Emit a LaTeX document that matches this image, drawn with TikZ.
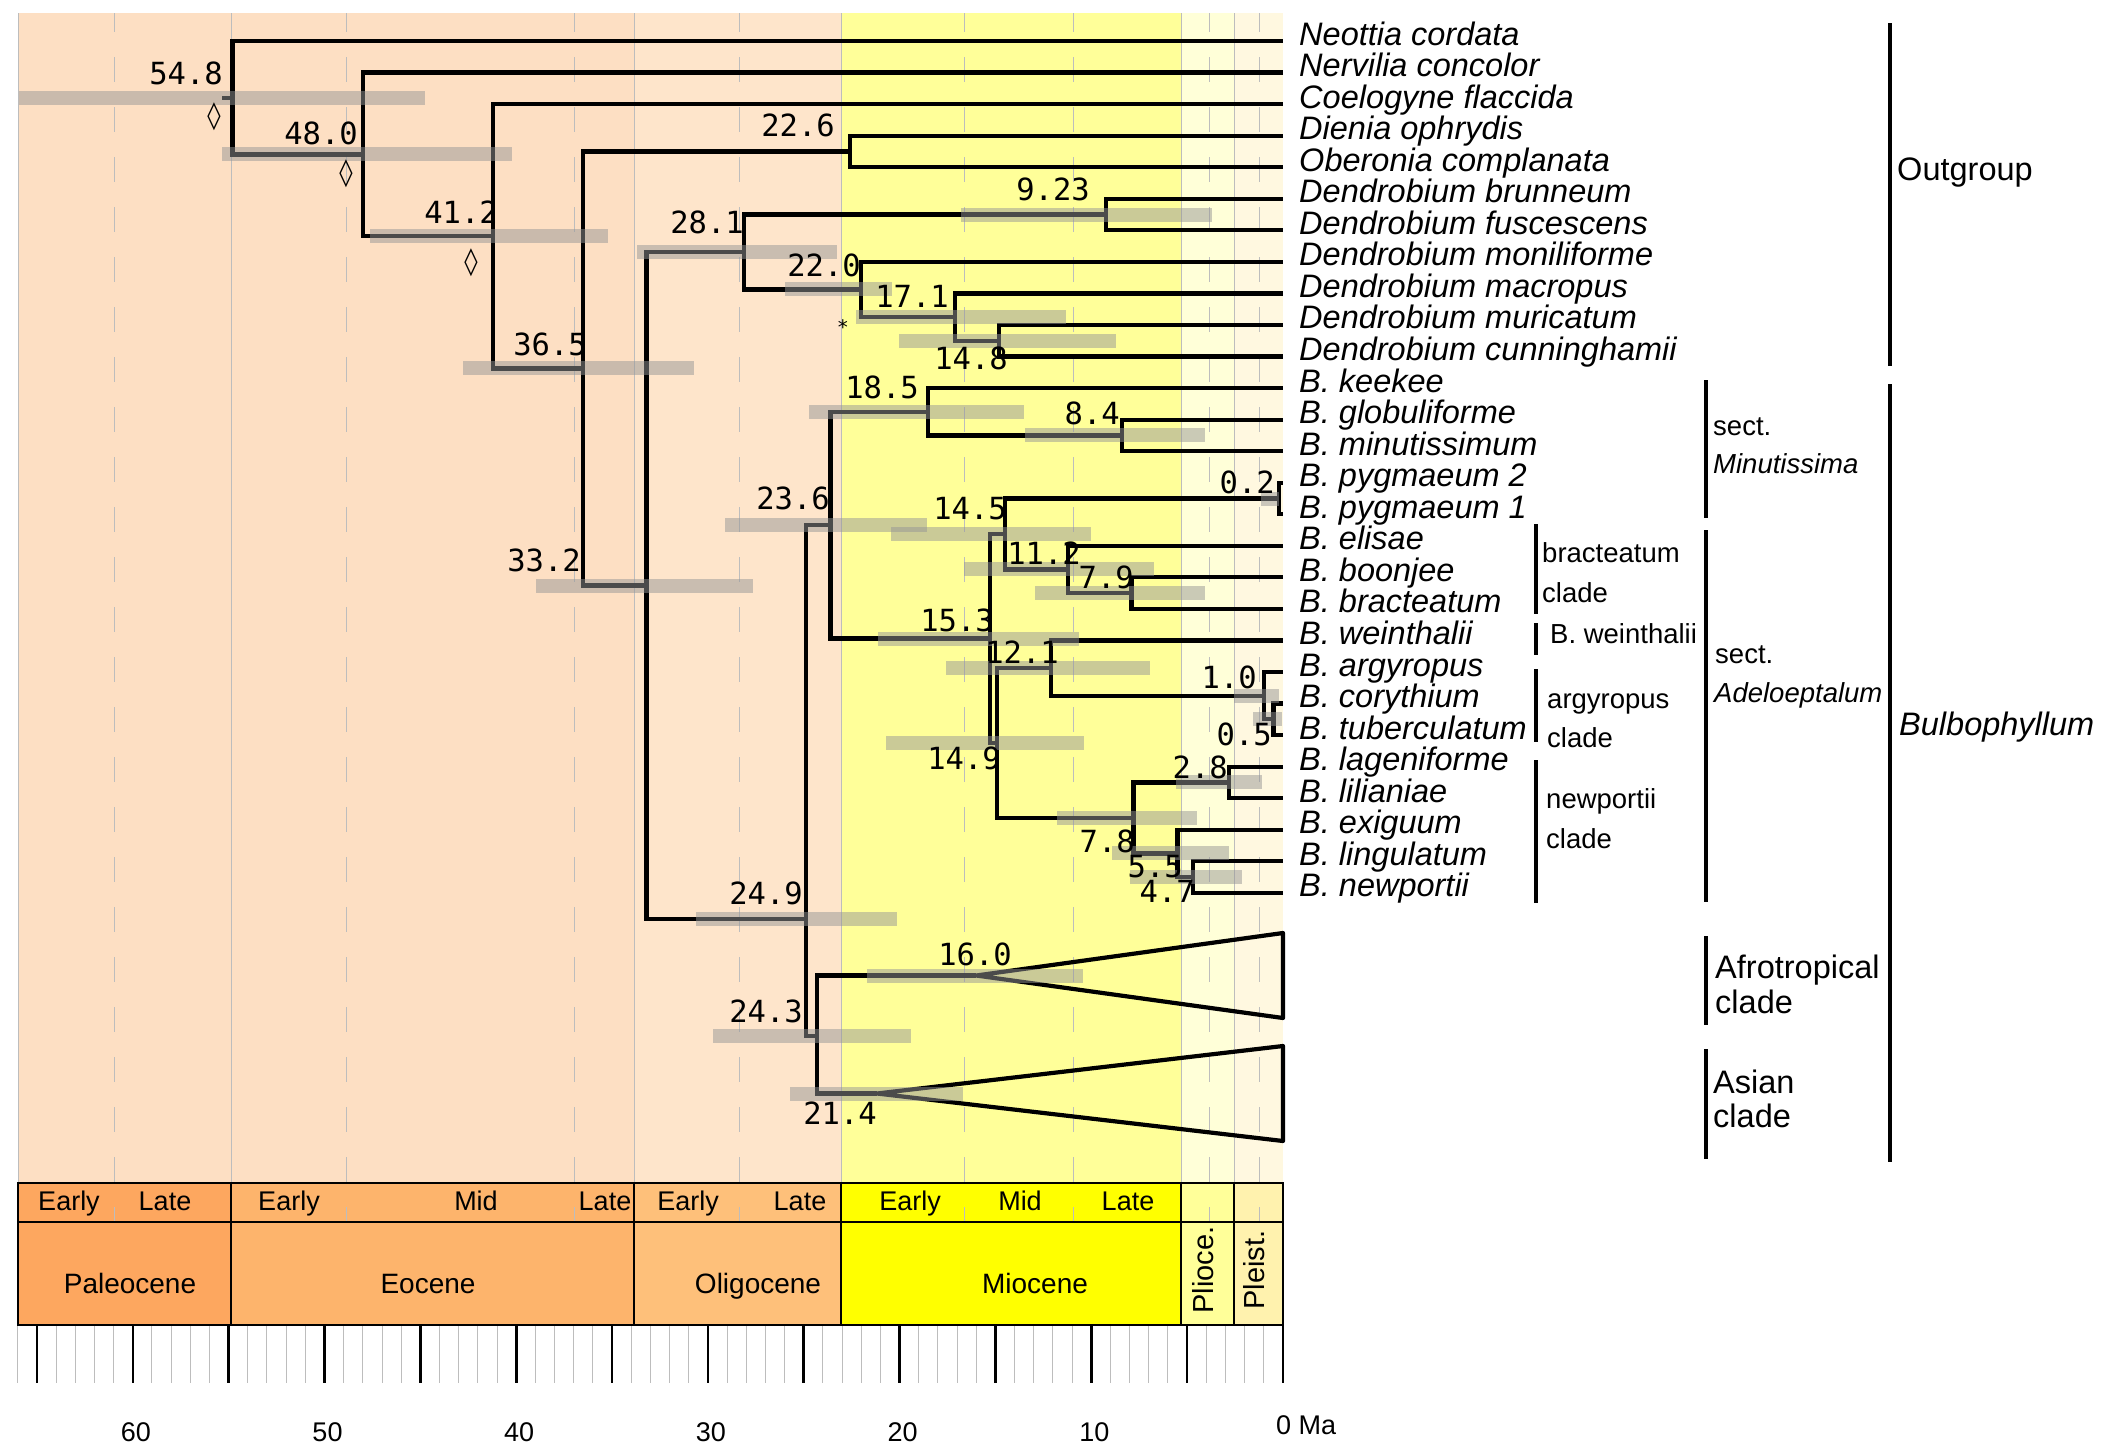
\documentclass[tikz,border=0pt]{standalone}
\usepackage{fontspec}
\setmainfont{Liberation Sans}
\newfontfamily\agefont{DejaVu Sans Mono}
\newfontfamily\symfont{DejaVu Sans}
\definecolor{cpal}{HTML}{FDA75F}
\definecolor{ceoc}{HTML}{FDB46C}
\definecolor{colig}{HTML}{FEC07A}
\definecolor{cmio}{HTML}{FFFF00}
\definecolor{cplio}{HTML}{FFFF99}
\definecolor{cpleis}{HTML}{FFF2AE}
\definecolor{bgpe}{HTML}{FDDFC3}
\definecolor{bgol}{HTML}{FEE5CB}
\definecolor{bgmi}{HTML}{FFFF99}
\definecolor{bgpl}{HTML}{FFFFD8}
\definecolor{bgps}{HTML}{FFF8E0}
\definecolor{hpdgray}{HTML}{969696}
\definecolor{gridgray}{HTML}{BDBDBD}
\newcommand\agex[1]{1283-19.17*#1}
\newcommand\hpdbar[3]{\fill[hpd] (#1,{#3-7}) rectangle (#2,{#3+7});}
\begin{document}
\begin{tikzpicture}[x=1pt,y=-1pt,
 branch/.style={line width=4.2pt,line join=miter},
 hpd/.style={fill=hpdgray,fill opacity=0.5},
 agelbl/.style={font={\agefont\fontsize{30.5}{36}\selectfont},inner sep=0pt,anchor=east},
 tiplbl/.style={font={\fontsize{32.5}{39}\selectfont\itshape},inner sep=0pt,anchor=base west},
 grplbl/.style={font={\fontsize{32.5}{39}\selectfont},inner sep=0pt,anchor=base west},
 sublbl/.style={font={\fontsize{27.5}{33}\selectfont},inner sep=0pt,anchor=base west},
 bracket/.style={line width=3.5pt},
 tslbl/.style={font={\fontsize{27}{32}\selectfont},inner sep=0pt,anchor=base},
 eplbl/.style={font={\fontsize{28}{33}\selectfont},inner sep=0pt,anchor=base},
 gridsolid/.style={draw=gridgray,line width=1pt},
 griddash/.style={draw=gridgray,line width=1pt,dash pattern=on 25pt off 25pt,dash phase=6pt},
 symb/.style={font={\symfont\fontsize{27}{31}\selectfont},inner sep=0pt}
]
\useasboundingbox (0,0) rectangle (2112,1456);
% ---------- background bands
\fill[bgpe] (18,13) rectangle (634,1183);
\fill[bgol] (634,13) rectangle (841,1183);
\fill[bgmi] (841,13) rectangle (1181,1183);
\fill[bgpl] (1181,13) rectangle (1234,1183);
\fill[bgps] (1234,13) rectangle (1283,1183);
% ---------- timescale fills
\fill[cpal] (18,1183) rectangle (231,1325);
\fill[ceoc] (231,1183) rectangle (634,1325);
\fill[colig] (634,1183) rectangle (841,1325);
\fill[cmio] (841,1183) rectangle (1181,1325);
\fill[cplio] (1181,1183) rectangle (1234,1325);
\fill[cpleis] (1234,1183) rectangle (1283,1325);
% ---------- grid lines
\foreach \x in {18,231,634,841,1181,1234} \draw[gridsolid] (\x,13) -- (\x,1183);
\foreach \x in {114,346,574,739,964,1073,1209,1259} \draw[griddash] (\x,13) -- (\x,1222);
% ---------- tips
\foreach \i in {0,...,27} {\coordinate (t\i) at (1283,{41+31.55*\i});}
% ---------- internal nodes
\coordinate (root) at (222,97.7);
\coordinate (n548) at ({\agex{54.8}},97.7);
\coordinate (n480) at ({\agex{48.0}},154.4);
\coordinate (n412) at ({\agex{41.2}},236.3);
\coordinate (n365) at ({\agex{36.5}},368.45);
\coordinate (n226) at ({\agex{22.6}},151.4);
\coordinate (n332) at ({\agex{33.2}},585.5);
\coordinate (n281) at ({\agex{28.1}},252);
\coordinate (n923) at ({\agex{9.23}},214.5);
\coordinate (n220) at ({\agex{22.0}},289.45);
\coordinate (n171) at ({\agex{17.1}},317.05);
\coordinate (n148) at ({\agex{14.8}},340.7);
\coordinate (n249) at ({\agex{24.9}},919);
\coordinate (n236) at ({\agex{23.6}},525.1);
\coordinate (n185) at ({\agex{18.5}},411.7);
\coordinate (n84) at ({\agex{8.4}},435.4);
\coordinate (n153) at ({\agex{15.3}},638.5);
\coordinate (n145) at ({\agex{14.5}},534);
\coordinate (n02) at ({\agex{0.2}},498.5);
\coordinate (n112) at ({\agex{11.2}},569.45);
\coordinate (n79) at ({\agex{7.9}},593.1);
\coordinate (n149) at ({\agex{14.9}},743);
\coordinate (n121) at ({\agex{12.1}},668);
\coordinate (n10) at ({\agex{1.0}},695.65);
\coordinate (n05) at ({\agex{0.5}},719.3);
\coordinate (n78) at ({\agex{7.8}},817.9);
\coordinate (n28) at ({\agex{2.8}},782.4);
\coordinate (n55) at ({\agex{5.5}},853.4);
\coordinate (n47) at ({\agex{4.7}},877.1);
\coordinate (n243) at ({\agex{24.3}},1036);
\coordinate (n160) at ({\agex{16.0}},975.5);
\coordinate (n214) at (877,1093.5);
\coordinate (afroT) at (1283,933);
\coordinate (afroB) at (1283,1018);
\coordinate (asiaT) at (1283,1046);
\coordinate (asiaB) at (1283,1141);
% ---------- branches
\draw[branch] (root) -- (n548);
\draw[branch] (n548) |- (t0);   \draw[branch] (n548) |- (n480);
\draw[branch] (n480) |- (t1);   \draw[branch] (n480) |- (n412);
\draw[branch] (n412) |- (t2);   \draw[branch] (n412) |- (n365);
\draw[branch] (n365) |- (n226); \draw[branch] (n365) |- (n332);
\draw[branch] (n226) |- (t3);   \draw[branch] (n226) |- (t4);
\draw[branch] (n332) |- (n281); \draw[branch] (n332) |- (n249);
\draw[branch] (n281) |- (n923); \draw[branch] (n281) |- (n220);
\draw[branch] (n923) |- (t5);   \draw[branch] (n923) |- (t6);
\draw[branch] (n220) |- (t7);   \draw[branch] (n220) |- (n171);
\draw[branch] (n171) |- (t8);   \draw[branch] (n171) |- (n148);
\draw[branch] (n148) |- (t9);   \draw[branch] (n148) |- (t10);
\draw[branch] (n249) |- (n236); \draw[branch] (n249) |- (n243);
\draw[branch] (n236) |- (n185); \draw[branch] (n236) |- (n153);
\draw[branch] (n185) |- (t11);  \draw[branch] (n185) |- (n84);
\draw[branch] (n84) |- (t12);   \draw[branch] (n84) |- (t13);
\draw[branch] (n153) |- (n145); \draw[branch] (n153) |- (n149);
\draw[branch] (n145) |- (n02);  \draw[branch] (n145) |- (n112);
\draw[branch] (n02) |- (t14);   \draw[branch] (n02) |- (t15);
\draw[branch] (n112) |- (t16);  \draw[branch] (n112) |- (n79);
\draw[branch] (n79) |- (t17);   \draw[branch] (n79) |- (t18);
\draw[branch] (n149) |- (n121); \draw[branch] (n149) |- (n78);
\draw[branch] (n121) |- (t19);  \draw[branch] (n121) |- (n10);
\draw[branch] (n10) |- (t20);   \draw[branch] (n10) |- (n05);
\draw[branch] (n05) |- (t21);   \draw[branch] (n05) |- (t22);
\draw[branch] (n78) |- (n28);   \draw[branch] (n78) |- (n55);
\draw[branch] (n28) |- (t23);   \draw[branch] (n28) |- (t24);
\draw[branch] (n55) |- (t25);   \draw[branch] (n55) |- (n47);
\draw[branch] (n47) |- (t26);   \draw[branch] (n47) |- (t27);
\draw[branch] (n243) |- (n160); \draw[branch] (n243) |- (n214);
\draw[branch,line join=round] (n160) -- (afroT) -- (afroB) -- cycle;
\draw[branch,line join=round] (n214) -- (asiaT) -- (asiaB) -- cycle;
% ---------- HPD bars
\hpdbar{19}{425}{97.7}
\hpdbar{222}{512}{154.4}
\hpdbar{370}{608}{236.3}
\hpdbar{463}{694}{368.45}
\hpdbar{536}{753}{585.5}
\hpdbar{637}{837}{252}
\hpdbar{961}{1212}{214.5}
\hpdbar{785}{892}{289.45}
\hpdbar{856}{1066}{317}
\hpdbar{899}{1116}{340.7}
\hpdbar{696}{897}{919}
\hpdbar{725}{927}{525.1}
\hpdbar{809}{1024}{411.7}
\hpdbar{1025}{1205}{435.4}
\hpdbar{878}{1079}{638.5}
\hpdbar{891}{1091}{534}
\hpdbar{1261}{1279}{498.5}
\hpdbar{964}{1154}{569.45}
\hpdbar{1035}{1205}{593.1}
\hpdbar{886}{1084}{743}
\hpdbar{946}{1150}{668}
\hpdbar{1234}{1279}{695.65}
\hpdbar{1253}{1282}{719.3}
\hpdbar{1057}{1197}{817.9}
\hpdbar{1176}{1262}{782.4}
\hpdbar{1112}{1229}{853.4}
\hpdbar{1130}{1242}{877.1}
\hpdbar{713}{911}{1036}
\hpdbar{867}{1083}{975.5}
\hpdbar{790}{963}{1093.5}
% ---------- age labels
\node[agelbl] (a548) at (223,73) {54.8};
\node[agelbl] (a480) at (358,133) {48.0};
\node[agelbl] (a412) at (498,212) {41.2};
\node[agelbl] (a365) at (587,344) {36.5};
\node[agelbl] (a332) at (581,560) {33.2};
\node[agelbl] (a281) at (744,222) {28.1};
\node[agelbl] (a226) at (835,125) {22.6};
\node[agelbl] (a923) at (1090,189) {9.23};
\node[agelbl] (a220) at (861,265) {22.0};
\node[agelbl] (a171) at (949,296) {17.1};
\node[agelbl] (a148) at (1008,358) {14.8};
\node[agelbl] (a185) at (919,387) {18.5};
\node[agelbl] (a84) at (1120,413) {8.4};
\node[agelbl] (a236) at (830,498) {23.6};
\node[agelbl] (a145) at (1007,509) {14.5};
\node[agelbl] (a02) at (1275,482) {0.2};
\node[agelbl] (a112) at (1081,553) {11.2};
\node[agelbl] (a79) at (1134,577) {7.9};
\node[agelbl] (a153) at (994,620) {15.3};
\node[agelbl] (a121) at (1059,652) {12.1};
\node[agelbl] (a10) at (1257,677) {1.0};
\node[agelbl] (a05) at (1272,734) {0.5};
\node[agelbl] (a149) at (1001,758) {14.9};
\node[agelbl] (a28) at (1228,767) {2.8};
\node[agelbl] (a78) at (1135,841) {7.8};
\node[agelbl] (a55) at (1183,867) {5.5};
\node[agelbl] (a47) at (1195,891) {4.7};
\node[agelbl] (a249) at (803,893) {24.9};
\node[agelbl] (a160) at (1012,954) {16.0};
\node[agelbl] (a243) at (803,1011) {24.3};
\node[agelbl] (a214) at (877,1113) {21.4};
\node[symb] (d1) at (214,117) {◊};
\node[symb] (d2) at (346,174) {◊};
\node[symb] (d3) at (471,263) {◊};
\node[font={\agefont\fontsize{20}{24}\selectfont},inner sep=0pt] (ast) at (843,327) {*};
% ---------- tip labels
\foreach \i/\nm in {0/Neottia cordata,1/Nervilia concolor,2/Coelogyne flaccida,3/Dienia ophrydis,4/Oberonia complanata,5/Dendrobium brunneum,6/Dendrobium fuscescens,7/Dendrobium moniliforme,8/Dendrobium macropus,9/Dendrobium muricatum,10/Dendrobium cunninghamii,11/B. keekee,12/B. globuliforme,13/B. minutissimum,14/B. pygmaeum 2,15/B. pygmaeum 1,16/B. elisae,17/B. boonjee,18/B. bracteatum,19/B. weinthalii,20/B. argyropus,21/B. corythium,22/B. tuberculatum,23/B. lageniforme,24/B. lilianiae,25/B. exiguum,26/B. lingulatum,27/B. newportii}
 {\node[tiplbl] (l\i) at (1299,{41+31.55*\i+4}) {\nm};}
% ---------- group brackets
\draw[bracket] (1890,23) -- (1890,366);
\draw[bracket] (1890,384) -- (1890,1162);
\draw[bracket] (1706,380) -- (1706,518);
\draw[bracket] (1706,530) -- (1706,902);
\draw[bracket] (1706,936) -- (1706,1025);
\draw[bracket] (1706,1049) -- (1706,1159);
\draw[bracket] (1536,524) -- (1536,614);
\draw[bracket] (1536,623) -- (1536,655);
\draw[bracket] (1536,669) -- (1536,742);
\draw[bracket] (1536,760) -- (1536,903);
\node[grplbl] (gOut) at (1897,180) {Outgroup};
\node[grplbl,font={\fontsize{32.5}{39}\selectfont\itshape}] (gBul) at (1899,735) {Bulbophyllum};
\node[sublbl] (gMin1) at (1713,435) {sect.};
\node[sublbl,font={\fontsize{27.5}{33}\selectfont\itshape}] (gMin2) at (1713,473) {Minutissima};
\node[sublbl] (gAde1) at (1715,663) {sect.};
\node[sublbl,font={\fontsize{27.5}{33}\selectfont\itshape}] (gAde2) at (1714,702) {Adeloeptalum};
\node[grplbl] (gAfr1) at (1715,978) {Afrotropical};
\node[grplbl] (gAfr2) at (1715,1013) {clade};
\node[grplbl] (gAsi1) at (1713,1093) {Asian};
\node[grplbl] (gAsi2) at (1713,1127) {clade};
\node[sublbl] (gBra1) at (1542,562) {bracteatum};
\node[sublbl] (gBra2) at (1542,602) {clade};
\node[sublbl] (gWei) at (1550,643) {B. weinthalii};
\node[sublbl] (gArg1) at (1547,708) {argyropus};
\node[sublbl] (gArg2) at (1547,747) {clade};
\node[sublbl] (gNew1) at (1546,808) {newportii};
\node[sublbl] (gNew2) at (1546,848) {clade};
% ---------- timescale borders and ticks
\foreach \t in {0,...,66} \draw[draw=gridgray,line width=1pt] ({\agex{\t}},1325) -- ({\agex{\t}},1383);
\foreach \t in {0,5,...,65} \draw[line width=2.6pt] ({\agex{\t}},1325) -- ({\agex{\t}},1383);
\draw[line width=2.8pt] (18,1183) rectangle (1283,1325);
\draw[line width=2.8pt] (18,1222) -- (1283,1222);
\foreach \x in {231,634,841,1181,1234} \draw[line width=2.8pt] (\x,1183) -- (\x,1325);
\node[tslbl] (s1) at (69,1210) {Early};
\node[tslbl] (s2) at (165,1210) {Late};
\node[tslbl] (s3) at (289,1210) {Early};
\node[tslbl] (s4) at (476,1210) {Mid};
\node[tslbl] (s5) at (605,1210) {Late};
\node[tslbl] (s6) at (688,1210) {Early};
\node[tslbl] (s7) at (800,1210) {Late};
\node[tslbl] (s8) at (910,1210) {Early};
\node[tslbl] (s9) at (1020,1210) {Mid};
\node[tslbl] (s10) at (1128,1210) {Late};
\node[eplbl] (e1) at (130,1293) {Paleocene};
\node[eplbl] (e2) at (428,1293) {Eocene};
\node[eplbl] (e3) at (758,1293) {Oligocene};
\node[eplbl] (e4) at (1035,1293) {Miocene};
\node[font={\fontsize{29}{34}\selectfont},inner sep=0pt,rotate=90] (e5) at (1203,1270) {Plioce.};
\node[font={\fontsize{29}{34}\selectfont},inner sep=0pt,rotate=90] (e6) at (1254,1270) {Pleist.};
\foreach \t in {60,50,40,30,20,10} \node[tslbl] (ax\t) at ({\agex{\t}+3},1441) {\t};
\node[tslbl,anchor=base west] (ax0) at (1276,1434) {0 Ma};
\end{tikzpicture}
\end{document}
